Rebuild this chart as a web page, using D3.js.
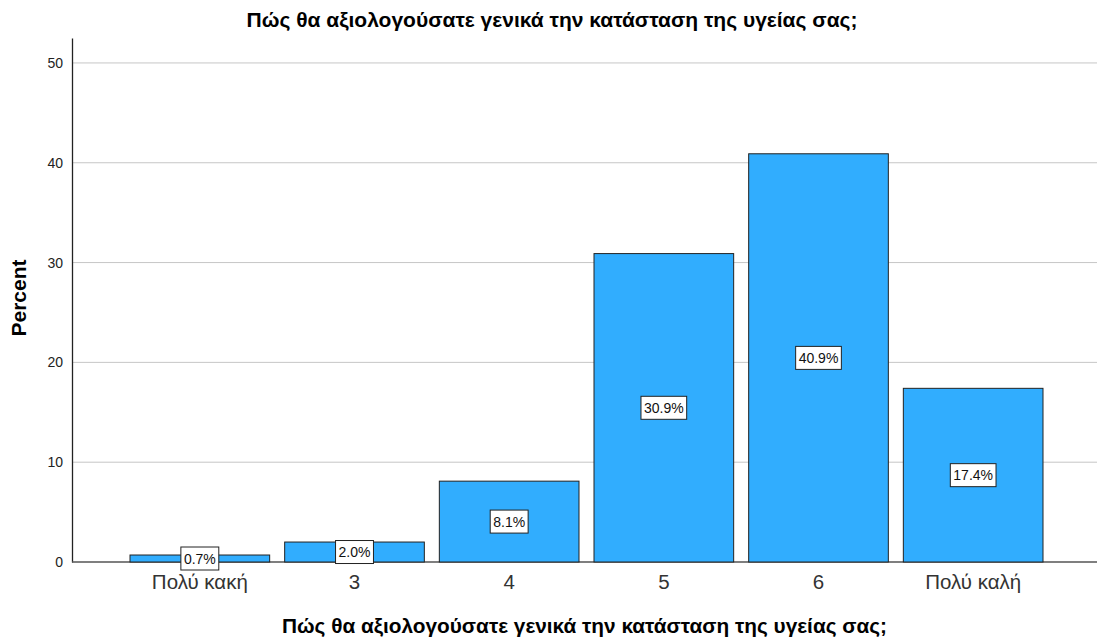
<!DOCTYPE html>
<html>
<head>
<meta charset="utf-8">
<script src="https://cdn.jsdelivr.net/npm/d3@7/dist/d3.min.js"></script>
<style>
  html, body { margin: 0; padding: 0; background: #fff; }
  svg { display: block; font-family: "Liberation Sans", Arial, sans-serif; }
</style>
</head>
<body>
<svg id="chart" width="1100" height="638"></svg>
<script>
// Self-rated general health, percent of respondents
const categories = ["Πολύ κακή", "3", "4", "5", "6", "Πολύ καλή"];
const percents = [0.7, 2.0, 8.1, 30.9, 40.9, 17.4];
const yTicks = [0, 10, 20, 30, 40, 50];
const titleText = "Πώς θα αξιολογούσατε γενικά την κατάσταση της υγείας σας;";
const yTitle = "Percent";

const svg = d3.select("#chart");
const plot = { left: 72, right: 1097, top: 38, bottom: 562 };

const x = d3.scaleBand()
  .domain(categories)
  .range([122.5, 1050.5])
  .paddingInner(0.097)
  .paddingOuter(0.0485);

const y = d3.scaleLinear()
  .domain([0, 52.5])
  .range([plot.bottom, plot.top]);

// gridlines
svg.append("g")
  .selectAll("line")
  .data(yTicks.filter(d => d > 0))
  .join("line")
  .attr("x1", plot.left).attr("x2", plot.right)
  .attr("y1", d => y(d)).attr("y2", d => y(d))
  .attr("stroke", "#c6c6c6").attr("stroke-width", 1);

// y axis
const yAxis = d3.axisLeft(y).tickValues(yTicks).tickSize(0).tickPadding(9);
const gy = svg.append("g").attr("transform", `translate(${plot.left},0)`).call(yAxis);
gy.select(".domain").attr("stroke", "#222").attr("stroke-width", 1.3);
gy.selectAll("text").attr("font-size", 14).attr("fill", "#222")
  .attr("font-family", "Liberation Sans, Arial, sans-serif");

// baseline
svg.append("line")
  .attr("x1", plot.left).attr("x2", plot.right)
  .attr("y1", y(0)).attr("y2", y(0))
  .attr("stroke", "#555").attr("stroke-width", 1.3);

// bars
svg.append("g")
  .selectAll("rect")
  .data(categories.map((c, i) => ({ c, v: percents[i] })))
  .join("rect")
  .attr("x", d => x(d.c))
  .attr("width", x.bandwidth())
  .attr("y", d => y(d.v))
  .attr("height", d => y(0) - y(d.v))
  .attr("fill", "#31adfe")
  .attr("stroke", "#222")
  .attr("stroke-width", 1);

// x axis labels
const xAxis = d3.axisBottom(x).tickSize(0).tickPadding(12);
const gx = svg.append("g").attr("transform", `translate(0,${y(0)})`).call(xAxis);
gx.select(".domain").remove();
gx.selectAll("text").attr("font-size", 20.5).attr("fill", "#333")
  .attr("font-family", "Liberation Sans, Arial, sans-serif");

// value labels
const labels = svg.append("g")
  .selectAll("g")
  .data(categories.map((c, i) => ({ c, v: percents[i] })))
  .join("g")
  .attr("transform", d => `translate(${x(d.c) + x.bandwidth() / 2},${y(d.v / 2)})`);

labels.append("text")
  .attr("text-anchor", "middle")
  .attr("dy", "0.36em")
  .attr("font-size", 14)
  .attr("fill", "#111")
  .text(d => d.v.toFixed(1) + "%")
  .each(function () {
    const bb = this.getBBox();
    d3.select(this.parentNode).insert("rect", "text")
      .attr("x", bb.x - 3).attr("y", -11.5)
      .attr("width", bb.width + 6).attr("height", 23)
      .attr("fill", "#fff").attr("stroke", "#222").attr("stroke-width", 1);
  });

// titles
svg.append("text")
  .attr("x", 552).attr("y", 27)
  .attr("text-anchor", "middle")
  .attr("font-size", 21).attr("font-weight", "bold").attr("fill", "#000")
  .text(titleText);

svg.append("text")
  .attr("x", (plot.left + plot.right) / 2).attr("y", 633)
  .attr("text-anchor", "middle")
  .attr("font-size", 20.8).attr("font-weight", "bold").attr("fill", "#000")
  .text(titleText);

svg.append("text")
  .attr("transform", `translate(25.5,298) rotate(-90)`)
  .attr("text-anchor", "middle")
  .attr("font-size", 21).attr("font-weight", "bold").attr("fill", "#000")
  .text(yTitle);
</script>
</body>
</html>
